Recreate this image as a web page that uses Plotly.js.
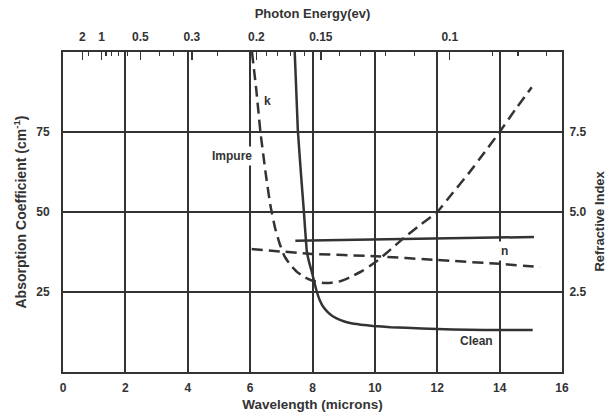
<!DOCTYPE html>
<html>
<head>
<meta charset="utf-8">
<script src="https://cdn.plot.ly/plotly-3.0.1.min.js"></script>
<style>html,body{margin:0;padding:0;background:#fff;}#chart{width:613px;height:417px;}</style>
</head>
<body>
<div id="chart"></div>
<script>
// Wavelength (microns) and absorption coefficient (cm^-1)
const cleanK_x = [7.43, 7.53, 7.63, 7.72, 7.82, 7.9, 7.98, 8.06, 8.14, 8.24, 8.35, 8.48, 8.65, 8.9, 9.2, 9.55, 9.94, 10.5, 11.0, 12.0, 13.0, 14.0, 15.06];
const cleanK_y = [100, 75.6, 62, 50.6, 37.5, 34, 31.2, 28, 25, 22.3, 20.3, 18.8, 17.4, 16.2, 15.3, 14.8, 14.4, 14.0, 13.8, 13.4, 13.2, 13.1, 13.1];
const impureK_x = [6.06, 6.2, 6.33, 6.5, 6.65, 6.8, 6.95, 7.1, 7.3, 7.5, 7.75, 8.0, 8.3, 8.6, 8.9, 9.2, 9.6, 10.0, 10.4, 11.0, 11.5, 12.0, 12.5, 13.0, 13.5, 14.0, 14.5, 15.03];
const impureK_y = [100, 88, 75, 62, 52, 45, 40, 36.2, 33.3, 31.3, 29.6, 28.5, 27.9, 27.9, 28.4, 29.6, 31.6, 34.2, 37.4, 42.5, 46.3, 50, 56, 62, 68.4, 75, 82, 89];
// Refractive index
const cleanN_x = [7.45, 15.1];
const cleanN_y = [4.10, 4.22];
const impureN_x = [6.05, 8.0, 10.0, 12.0, 14.0, 15.3];
const impureN_y = [3.84, 3.69, 3.62, 3.50, 3.38, 3.28];
// Axis ticks
const wavelengthTicks = [0, 2, 4, 6, 8, 10, 12, 14, 16];
const absorptionTicks = [25, 50, 75];
const indexTicks = [2.5, 5.0, 7.5];
const indexTickText = ['2.5', '5.0', '7.5'];
const energyTicks = [2, 1, 0.5, 0.3, 0.2, 0.15, 0.1];
const energyTickText = ['2', '1', '0.5', '0.3', '0.2', '0.15', '0.1'];
const energyMinor = [1.5, 0.9, 0.8, 0.7, 0.6, 0.4, 0.35, 0.25, 0.19, 0.18, 0.17, 0.16, 0.14, 0.13, 0.12, 0.11, 0.09, 0.085, 0.08];
const HC = 1.24; // eV·micron

const ink = '#333333';
const FONT = 'Liberation Sans, Arial, sans-serif';
const lam = e => HC / e;
const bold = (size) => ({family: FONT, size: size, color: ink, weight: 'bold'});

const traces = [
  {x: cleanK_x, y: cleanK_y, mode: 'lines', line: {color: ink, width: 2.5, shape: 'spline', smoothing: 0.3}, xaxis: 'x', yaxis: 'y', hoverinfo: 'skip', name: 'Clean k'},
  {x: impureK_x, y: impureK_y, mode: 'lines', line: {color: ink, width: 2.5, dash: '11px,6px', shape: 'spline', smoothing: 0.3}, xaxis: 'x', yaxis: 'y', hoverinfo: 'skip', name: 'Impure k'},
  {x: cleanN_x, y: cleanN_y, mode: 'lines', line: {color: ink, width: 2.5}, xaxis: 'x', yaxis: 'y2', hoverinfo: 'skip', name: 'Clean n'},
  {x: impureN_x, y: impureN_y, mode: 'lines', line: {color: ink, width: 2.5, dash: '11px,6px', shape: 'spline', smoothing: 0.3}, xaxis: 'x', yaxis: 'y2', hoverinfo: 'skip', name: 'Impure n'},
  {x: [8], y: [null], mode: 'lines', xaxis: 'x2', yaxis: 'y', hoverinfo: 'skip', showlegend: false}
];

const layout = {
  width: 613, height: 417,
  margin: {l: 63, r: 51, t: 52, b: 45},
  paper_bgcolor: '#ffffff', plot_bgcolor: '#ffffff',
  showlegend: false,
  font: {family: FONT, size: 12, color: ink},
  xaxis: {
    range: [0, 16], tickvals: wavelengthTicks, ticktext: wavelengthTicks.map(String),
    showgrid: true, gridcolor: ink, gridwidth: 2, zeroline: false,
    showline: true, linecolor: ink, linewidth: 2, mirror: true,
    ticks: 'outside', ticklen: 4, tickcolor: 'rgba(0,0,0,0)',
    tickfont: bold(12),
    title: {text: 'Wavelength (microns)', font: bold(13.5), standoff: 5}
  },
  xaxis2: {
    overlaying: 'x', side: 'top', range: [0, 16], anchor: 'y',
    tickmode: 'array', tickvals: energyTicks.map(lam), ticktext: energyTickText,
    ticks: 'inside', ticklen: 8, tickwidth: 1.5, tickcolor: ink,
    minor: {tickmode: 'array', tickvals: energyMinor.map(lam), ticks: 'inside', ticklen: 4, tickwidth: 1.2, tickcolor: ink, showgrid: false},
    showgrid: false, zeroline: false, showline: false,
    ticklabelstandoff: 8,
    tickfont: bold(12),
    title: {text: 'Photon Energy(ev)', font: bold(13), standoff: 8}
  },
  yaxis: {
    range: [0, 100], tickvals: absorptionTicks, ticktext: absorptionTicks.map(String),
    showgrid: true, gridcolor: ink, gridwidth: 2, zeroline: false,
    showline: true, linecolor: ink, linewidth: 2, mirror: true,
    ticks: 'outside', ticklen: 9, tickcolor: 'rgba(0,0,0,0)',
    tickfont: bold(12),
    title: {text: 'Absorption Coefficient (cm<sup>-1</sup>)', font: bold(14), standoff: 6}
  },
  yaxis2: {
    overlaying: 'y', side: 'right', range: [0, 10],
    tickvals: indexTicks, ticktext: indexTickText,
    showgrid: false, zeroline: false, showline: false,
    ticks: 'outside', ticklen: 4, tickcolor: 'rgba(0,0,0,0)',
    tickfont: bold(12)
  },
  annotations: [
    {x: 1, y: 0.47, xref: 'paper', yref: 'paper', xanchor: 'center', yanchor: 'middle', xshift: 38, textangle: -90, text: 'Refractive Index', showarrow: false, font: bold(13)},
    {x: 6.57, y: 84.7, xref: 'x', yref: 'y', text: 'k', showarrow: false, font: bold(12)},
    {x: 5.42, y: 67.5, xref: 'x', yref: 'y', text: 'Impure', showarrow: false, bgcolor: '#ffffff', borderpad: 2, font: bold(12)},
    {x: 14.17, y: 37.8, xref: 'x', yref: 'y', text: 'n', showarrow: false, bgcolor: '#ffffff', borderpad: 2, font: bold(12)},
    {x: 13.27, y: 9.7, xref: 'x', yref: 'y', text: 'Clean', showarrow: false, font: bold(12)}
  ]
};

Plotly.newPlot('chart', traces, layout, {staticPlot: true, displayModeBar: false});
</script>
</body>
</html>
